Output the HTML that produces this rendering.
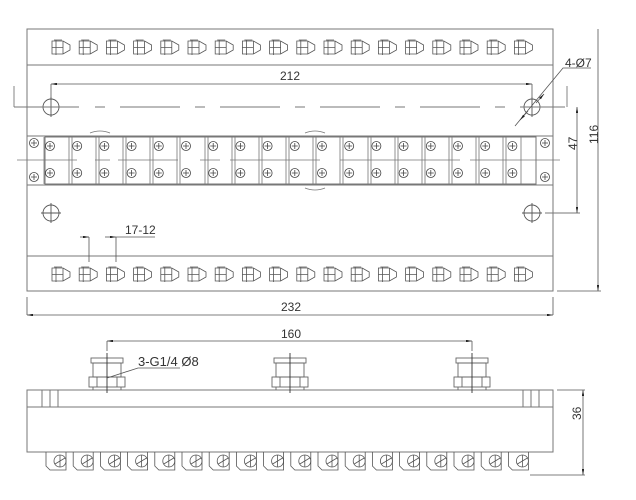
<!DOCTYPE html>
<html><head><meta charset="utf-8"><style>
html,body{margin:0;padding:0;background:#fff;}
svg{display:block;}
text{font-family:"Liberation Sans",sans-serif;font-size:12px;fill:#333;}
</style></head><body>
<svg width="636" height="500" viewBox="0 0 636 500" xmlns="http://www.w3.org/2000/svg">
<defs>
<g id="noz" fill="none" stroke="#555" stroke-width="0.8">
<path d="M0,1 h11 l7,4 v5 l-7,4 h-11 z"/>
<path d="M4,0 v15 M11,1 v13 M0,7.5 h11 M2,0 h8"/>
</g>
<g id="scr" fill="none" stroke="#444" stroke-width="0.8">
<circle r="4.5"/><path d="M-3,0 h6 M0,-3 v6"/>
</g>
<g id="bnoz" fill="none" stroke="#555" stroke-width="0.8">
<path d="M0,0 v14 l4,4 h16 v-14 M20,0 v4"/>
<circle cx="14" cy="9" r="6"/><path d="M9,12 l10,-6 M14,3 v12"/>
</g>
<marker id="a" viewBox="0 0 10 4" refX="10" refY="2" markerWidth="8" markerHeight="3" orient="auto-start-reverse"><path d="M0,0 L10,2 L0,4 z" fill="#222"/></marker>
</defs>
<g fill="none" stroke="#777" stroke-width="1">
<rect x="27" y="29" width="526" height="262"/>
<line x1="27" y1="65" x2="553" y2="65"/>
<line x1="27" y1="256" x2="553" y2="256"/>
<rect x="27" y="136" width="526" height="49"/>
<rect x="45" y="137" width="491" height="47"/>
<line x1="45" y1="184" x2="536" y2="184"/>
</g>
<g id="nozrow">
<use href="#noz" x="52" y="40"/><use href="#noz" x="79.2" y="40"/><use href="#noz" x="106.4" y="40"/><use href="#noz" x="133.6" y="40"/><use href="#noz" x="160.8" y="40"/><use href="#noz" x="188" y="40"/><use href="#noz" x="215.2" y="40"/><use href="#noz" x="242.4" y="40"/><use href="#noz" x="269.6" y="40"/><use href="#noz" x="296.8" y="40"/><use href="#noz" x="324" y="40"/><use href="#noz" x="351.2" y="40"/><use href="#noz" x="378.4" y="40"/><use href="#noz" x="405.6" y="40"/><use href="#noz" x="432.8" y="40"/><use href="#noz" x="460" y="40"/><use href="#noz" x="487.2" y="40"/><use href="#noz" x="514.4" y="40"/>
</g>
<use href="#nozrow" y="227"/>
<g fill="none" stroke="#777" stroke-width="0.8">
<path d="M44,137 v47 M69,137 v47 M72,137 v47 M96,137 v47 M99,137 v47 M123,137 v47 M126,137 v47 M150,137 v47 M153,137 v47 M177,137 v47 M180,137 v47 M205,137 v47 M208,137 v47 M232,137 v47 M235,137 v47 M259,137 v47 M262,137 v47 M286,137 v47 M289,137 v47 M313,137 v47 M316,137 v47 M340,137 v47 M343,137 v47 M368,137 v47 M371,137 v47 M395,137 v47 M398,137 v47 M422,137 v47 M425,137 v47 M449,137 v47 M452,137 v47 M476,137 v47 M479,137 v47 M503,137 v47 M506,137 v47 M521,137 v47"/>
<path d="M17,160 h60 M95,160 h15 M118,160 h60 M200,160 h20 M230,160 h90 M340,160 h120 M470,160 h90"/>
<path d="M305,133 q10,-4 20,0 M305,188 q10,4 20,0 M90,133 q10,-4 20,0"/>
</g>
<g>
<use href="#scr" x="34" y="143"/><use href="#scr" x="34" y="177"/><use href="#scr" x="545" y="143"/><use href="#scr" x="545" y="177"/>
</g>
<g id="srow">
<use href="#scr" x="50" y="146"/><use href="#scr" x="77.2" y="146"/><use href="#scr" x="104.4" y="146"/><use href="#scr" x="131.6" y="146"/><use href="#scr" x="158.8" y="146"/><use href="#scr" x="186" y="146"/><use href="#scr" x="213.2" y="146"/><use href="#scr" x="240.4" y="146"/><use href="#scr" x="267.6" y="146"/><use href="#scr" x="294.8" y="146"/><use href="#scr" x="322" y="146"/><use href="#scr" x="349.2" y="146"/><use href="#scr" x="376.4" y="146"/><use href="#scr" x="403.6" y="146"/><use href="#scr" x="430.8" y="146"/><use href="#scr" x="458" y="146"/><use href="#scr" x="485.2" y="146"/><use href="#scr" x="512.4" y="146"/>
</g>
<use href="#srow" y="27"/>
<g fill="none" stroke="#555" stroke-width="0.9">
<circle cx="51" cy="107" r="8"/><circle cx="532" cy="107" r="8"/><circle cx="51" cy="213" r="8"/><circle cx="532" cy="213" r="8"/>
<path d="M51,97 v20 M41,213 h20 M51,203 v20 M532,97 v20 M522,213 h20 M532,203 v20"/>
<path d="M14,107 h65 M95,107 h10 M120,107 h60 M195,107 h10 M220,107 h60 M295,107 h10 M320,107 h60 M395,107 h10 M420,107 h60 M495,107 h10 M520,107 h45" stroke="#777"/>
<path d="M14,86 v21" stroke="#777"/>
<path d="M545,213 h35" stroke="#777"/>
<path d="M567,86 v21" stroke="#777"/>
</g>
<g stroke="#555" stroke-width="0.8" fill="none">
<path d="M51,84 v14 M532,84 v14"/>
<line x1="51" y1="84" x2="532" y2="84" marker-start="url(#a)" marker-end="url(#a)"/>
<line x1="577" y1="107" x2="577" y2="213" marker-start="url(#a)" marker-end="url(#a)"/>
<line x1="598" y1="29" x2="598" y2="291" marker-end="url(#a)"/>
<path d="M557,291 h44"/>
<path d="M515,126 L563,68 h28"/>
<line x1="528" y1="111" x2="520" y2="120" marker-end="url(#a)"/>
<line x1="536" y1="103" x2="544" y2="94" marker-end="url(#a)"/>
<path d="M89,262 v-25 M116,262 v-25 M116,237 h39"/>
<line x1="80" y1="237" x2="89" y2="237" marker-end="url(#a)"/>
<line x1="105" y1="237" x2="116" y2="237" marker-end="url(#a)"/>
<path d="M27,297 v18 M553,297 v18"/>
<line x1="27" y1="315" x2="553" y2="315" marker-start="url(#a)" marker-end="url(#a)"/>
</g>
<text x="280" y="80">212</text>
<text x="565" y="67">4-Ø7</text>
<text x="125" y="234">17-12</text>
<text x="281" y="311">232</text>
<text transform="translate(577,150) rotate(-90)">47</text>
<text transform="translate(598,144) rotate(-90)">116</text>
<g fill="none" stroke="#777" stroke-width="1">
<rect x="27" y="390" width="526" height="62"/>
<line x1="27" y1="407" x2="553" y2="407"/>
<path d="M42,390 v17 M50,390 v17 M58,390 v17 M523,390 v17 M531,390 v17 M539,390 v17"/>
</g>
<g id="fit" fill="none" stroke="#666" stroke-width="0.9">
<rect x="91" y="358" width="32" height="5"/>
<rect x="93" y="363" width="28" height="14"/>
<rect x="89" y="377" width="36" height="10"/>
<path d="M97,377 v10 M117,377 v10 M93,387 v3 M121,387 v3"/>
<path d="M107,353 v40" stroke="#333"/>
</g>
<use href="#fit" x="183"/>
<use href="#fit" x="365"/>
<g stroke="#555" stroke-width="0.8" fill="none">
<path d="M107,341 v10 M472,341 v10"/>
<line x1="107" y1="341" x2="472" y2="341" marker-start="url(#a)" marker-end="url(#a)"/>
<path d="M107,378 L138,368 h42"/>
<path d="M557,390 h28 M530,475 h55"/>
<line x1="583" y1="390" x2="583" y2="475" marker-start="url(#a)" marker-end="url(#a)"/>
</g>
<text x="281" y="338">160</text>
<text x="138" y="366" style="font-size:13px">3-G1/4 Ø8</text>
<text transform="translate(581,420) rotate(-90)">36</text>
<g>
<use href="#bnoz" x="46" y="452"/><use href="#bnoz" x="73.2" y="452"/><use href="#bnoz" x="100.4" y="452"/><use href="#bnoz" x="127.6" y="452"/><use href="#bnoz" x="154.8" y="452"/><use href="#bnoz" x="182" y="452"/><use href="#bnoz" x="209.2" y="452"/><use href="#bnoz" x="236.4" y="452"/><use href="#bnoz" x="263.6" y="452"/><use href="#bnoz" x="290.8" y="452"/><use href="#bnoz" x="318" y="452"/><use href="#bnoz" x="345.2" y="452"/><use href="#bnoz" x="372.4" y="452"/><use href="#bnoz" x="399.6" y="452"/><use href="#bnoz" x="426.8" y="452"/><use href="#bnoz" x="454" y="452"/><use href="#bnoz" x="481.2" y="452"/><use href="#bnoz" x="508.4" y="452"/>
</g>
</svg>
</body></html>
